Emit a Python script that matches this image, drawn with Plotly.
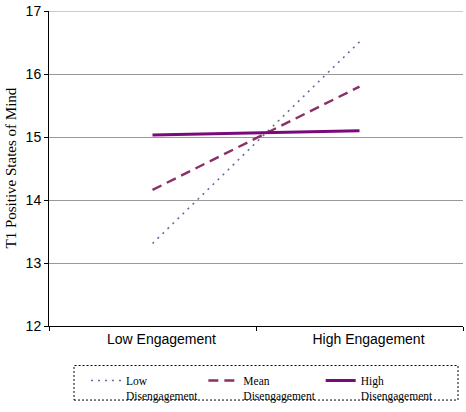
import plotly.graph_objects as go

categories = ["Low Engagement", "High Engagement"]
low_dis = [13.31, 16.51]
mean_dis = [14.16, 15.80]
high_dis = [15.03, 15.10]
series_names = ["Low<br>Disengagement", "Mean<br>Disengagement", "High<br>Disengagement"]
y_ticks = [12, 13, 14, 15, 16, 17]

fig = go.Figure()
fig.add_trace(go.Scatter(x=categories, y=low_dis, mode="lines", name=series_names[0],
                         line=dict(color="#6a6aa6", width=1.6, dash="2px,5px")))
fig.add_trace(go.Scatter(x=categories, y=mean_dis, mode="lines", name=series_names[1],
                         line=dict(color="#8b2f66", width=2.4, dash="10px,6px")))
fig.add_trace(go.Scatter(x=categories, y=high_dis, mode="lines", name=series_names[2],
                         line=dict(color="#7a0a7c", width=3)))

L, R, T, B = 49, 3, 8, 85
W, H = 466, 412
pw, ph = W - L - R, H - T - B

def px_x(x):
    return (x - L) / pw

def px_y(y):
    return (H - B - y) / ph

fig.add_shape(type="rect", xref="paper", yref="paper",
              x0=px_x(74), x1=px_x(458), y0=px_y(402), y1=px_y(367),
              line=dict(color="black", width=1, dash="2px,2px"), fillcolor="rgba(0,0,0,0)")
# top gridline (plotly drops gridlines at the range ends)
fig.add_shape(type="line", xref="paper", yref="y", x0=0, x1=1, y0=y_ticks[-1], y1=y_ticks[-1],
              line=dict(color="#999999", width=1), layer="below")

fig.add_annotation(text="T1 Positive States of Mind", xref="paper", yref="paper",
                   x=0, y=0.5, xshift=-39, textangle=-90, showarrow=False,
                   xanchor="center", yanchor="middle",
                   font=dict(family="Liberation Serif", size=15, color="black"))

fig.update_layout(
    width=W, height=H,
    margin=dict(l=L, r=R, t=T, b=B),
    paper_bgcolor="white", plot_bgcolor="white",
    showlegend=True,
    legend=dict(orientation="h", x=px_x(86), xanchor="left", y=px_y(368), yanchor="top",
                valign="top",
                font=dict(family="Liberation Serif", size=11.5, color="black"),
                bgcolor="rgba(0,0,0,0)", borderwidth=0, traceorder="normal"),
    font=dict(family="Liberation Sans", size=14, color="black"),
)
fig.update_xaxes(type="category", range=[-0.5, 1.5], showline=True, linecolor="black", linewidth=1,
                 ticks="outside", tickson="boundaries", ticklen=4, tickcolor="black",
                 showgrid=False, ticklabelshift=9,
                 tickfont=dict(family="Liberation Sans", size=14, color="black"))
fig.update_yaxes(range=[12, 17], tickvals=y_ticks, showline=True, linecolor="black", linewidth=1,
                 ticks="outside", ticklen=4, tickcolor="black", ticklabeloverflow="allow",
                 showgrid=True, gridcolor="#999999", gridwidth=1, zeroline=False,
                 tickfont=dict(family="Liberation Sans", size=14, color="black"))

fig.write_html("out.html", config={"displayModeBar": False},
               post_script="document.body.style.margin='0';")
